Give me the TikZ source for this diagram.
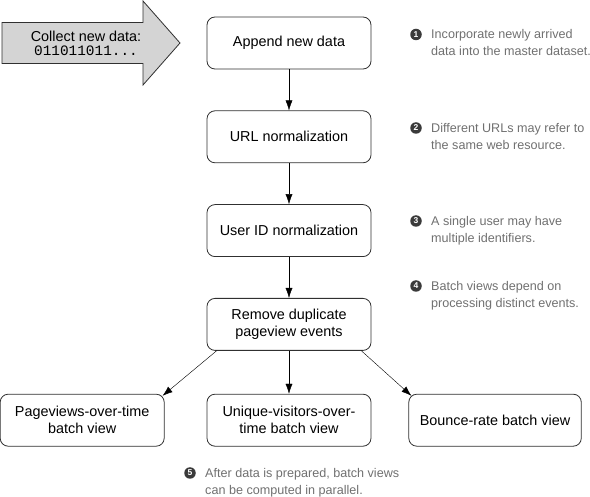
\documentclass[tikz,border=0pt]{standalone}
\usepackage{fontspec}
\setmainfont{Liberation Sans}
\setmonofont{Liberation Mono}
\usepackage{xcolor}
\usepackage{tikz}
\usetikzlibrary{arrows.meta}
\usetikzlibrary{calc}
\usetikzlibrary{positioning}

\definecolor{notegray}{HTML}{707070}
\definecolor{bulletgray}{HTML}{3A3A3A}
\definecolor{arrowgray}{HTML}{D4D4D4}
\definecolor{edgegray}{HTML}{303030}

\begin{document}
\begin{tikzpicture}[x=1pt, y=-1pt,
    stage/.style={draw=edgegray, line width=0.8pt, rounded corners=8pt,
      minimum width=164pt, minimum height=52pt, inner xsep=11pt,
      align=center, font=\fontsize{14.4}{17}\selectfont},
    flow/.style={-{Latex[length=10pt, width=7pt]}, black},
    bullet/.style={circle, fill=bulletgray, text=white, inner sep=0pt,
      minimum size=11.5pt, font=\fontsize{8.5}{8.5}\selectfont\bfseries},
    note/.style={anchor=base west, align=left, inner sep=0pt, text=notegray,
      font=\fontsize{12.6}{17}\selectfont}]

    \useasboundingbox (0, 0) rectangle (590, 497);

    \def\gap{41pt}

    % incoming data arrow
    \filldraw [fill=arrowgray, draw=edgegray, line width=0.8pt] (2, 22.5)
      -- (143, 22.5) -- (143, 1) -- (180, 43) -- (143, 85)
      -- (143, 63.5) -- (2, 63.5) -- cycle;
    \node [align=center, font=\fontsize{14.4}{17}\selectfont] (collect)
      at (86, 43) {Collect new data:\\[-3pt]{\ttfamily 011011011...}};

    % processing pipeline
    \node [stage] (append) at (289, 43) {Append new data};
    \node [stage, below=\gap of append] (url) {URL normalization};
    \node [stage, below=\gap of url] (userid) {User ID normalization};
    \node [stage, below=\gap of userid] (dedup)
      {Remove duplicate\\pageview events};

    % batch views
    \node [stage, below=43pt of dedup] (unique)
      {Unique-visitors-over-\\time batch view};
    \node [stage, left=42pt of unique] (pageviews)
      {Pageviews-over-time\\batch view};
    \node [stage, right=37pt of unique] (bounce) {Bounce-rate batch view};

    \foreach \a/\b in {append/url, url/userid, userid/dedup, dedup/unique} {
      \draw [flow] (\a) -- (\b);
    }
    \draw [flow] ([xshift=10pt]dedup.south west)
      -- ([shift={(-2pt, -2pt)}]pageviews.north east);
    \draw [flow] ([xshift=-10pt]dedup.south east)
      -- ([shift={(3pt, -2pt)}]bounce.north west);

    % numbered notes (base anchor sits on the last line)
    \foreach \n/\x/\y/\txt in {
      1/416/34.5/{Incorporate newly arrived\\data into the master dataset.},
      2/416/128/{Different URLs may refer to\\the same web resource.},
      3/416/221/{A single user may have\\multiple identifiers.},
      4/416/286/{Batch views depend on\\processing distinct events.},
      5/190/473/{After data is prepared, batch views\\can be computed in parallel.}} {
      \node [bullet] (b\n) at (\x, \y) {\n};
      \node [note] (note\n) at ([xshift=15pt, yshift=-21.5pt]b\n.center) {\txt};
    }

  \end{tikzpicture}
\end{document}
